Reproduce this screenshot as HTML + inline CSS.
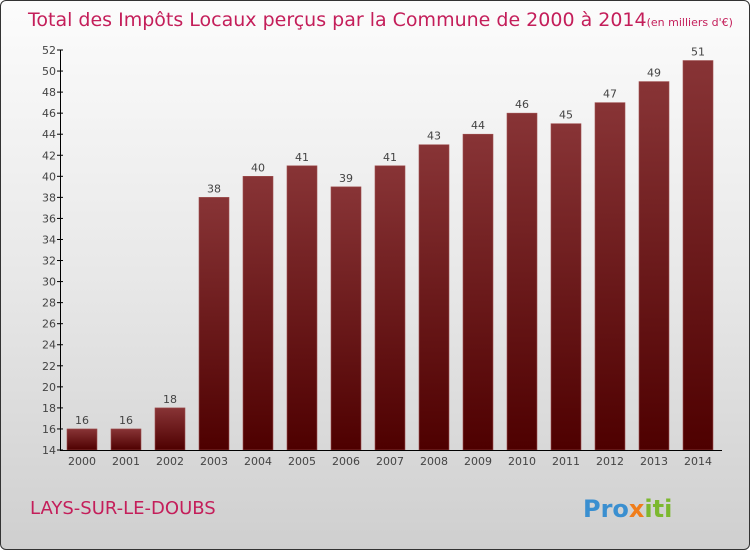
<!DOCTYPE html>
<html><head><meta charset="utf-8"><style>
html,body{margin:0;padding:0}
body{width:750px;height:550px;overflow:hidden;font-family:"DejaVu Sans","Liberation Sans",sans-serif}
#frame{position:absolute;left:0;top:0;width:748px;height:548px;border:1px solid #333;border-radius:6px;background:linear-gradient(#fcfcfc,#e8e8e8 50%,#cfcfcf)}
</style></head><body>
<div id="frame"></div>
<svg width="750" height="550" style="position:absolute;left:0;top:0">
<defs><linearGradient id="bg" x1="0" y1="0" x2="0" y2="1"><stop offset="0" stop-color="#883436"/><stop offset="1" stop-color="#4e0000"/></linearGradient></defs>
<text x="28" y="26" font-size="19" fill="#c41e5a">Total des Impôts Locaux perçus par la Commune de 2000 à 2014<tspan font-size="11">(en milliers d'€)</tspan></text>
<g id="bars"></g><g id="axes"></g>
<text x="30" y="514" font-size="18" fill="#c41e5a">LAYS-SUR-LE-DOUBS</text>
<text x="583" y="517" font-size="24" font-weight="bold"><tspan fill="#3a8fd0">Pro</tspan><tspan fill="#f07d1a">x</tspan><tspan fill="#7cb82f">iti</tspan></text>
</svg>
<script>
const years=["2000","2001","2002","2003","2004","2005","2006","2007","2008","2009","2010","2011","2012","2013","2014"];
const values=[16,16,18,38,40,41,39,41,43,44,46,45,47,49,51];
const yTicks=[14,16,18,20,22,24,26,28,30,32,34,36,38,40,42,44,46,48,50,52];
const NS="http://www.w3.org/2000/svg";
const y=v=>450-(v-14)*400/38;
const x=i=>67+i*44;
function mk(t,a,p){const e=document.createElementNS(NS,t);for(const k in a)e.setAttribute(k,a[k]);p.appendChild(e);return e;}
const bars=document.getElementById('bars'),axes=document.getElementById('axes');
values.forEach((v,i)=>{
const r=mk('rect',{x:x(i),y:y(v),width:30,height:450-y(v),fill:'url(#bg)',stroke:'#a05050','stroke-width':0.6},bars);


const t=mk('text',{x:x(i)+15,y:y(v)-5,'text-anchor':'middle','font-size':11,fill:'#444'},bars);t.textContent=v;


const l=mk('text',{x:x(i)+15,y:465,'text-anchor':'middle','font-size':11,fill:'#444'},axes);l.textContent=years[i];


});
const ya=mk('line',{x1:60.5,y1:50,x2:60.5,y2:450,stroke:'#000'},axes);


const xa=mk('line',{x1:60,y1:450.5,x2:722,y2:450.5,stroke:'#000'},axes);


yTicks.forEach(v=>{
mk('line',{x1:57,x2:63,y1:y(v),y2:y(v),stroke:'#000'},axes);
const t=mk('text',{x:56,y:y(v)+4,'text-anchor':'end','font-size':11,fill:'#444'},axes);t.textContent=v;


});
</script>
</body></html>
